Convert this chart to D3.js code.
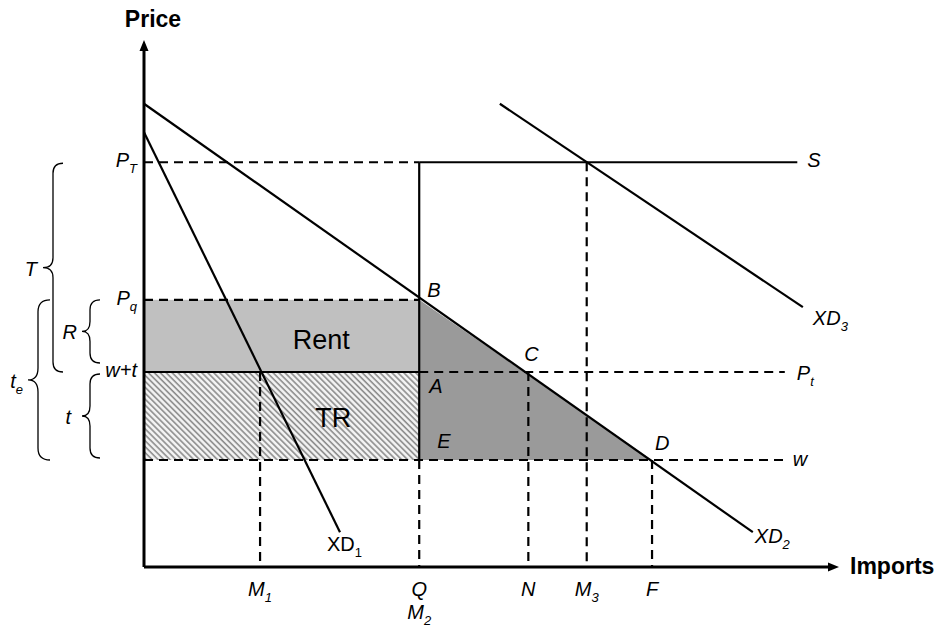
<!DOCTYPE html>
<html>
<head>
<meta charset="utf-8">
<script src="https://cdn.jsdelivr.net/npm/d3@7"></script>
<style>
  body { margin: 0; background: #fff; }
  svg { display: block; font-family: "Liberation Sans", Arial, Helvetica, sans-serif; }
</style>
</head>
<body>
<div class="chart"></div>
<script>
"use strict";

// quantities on the imports axis (arbitrary units 0-100)
const qtyNames = ["M1", "Q", "N", "M3", "F"];
const qtyValues = [16.7, 39.6, 55.3, 63.7, 73.1];

// price levels (arbitrary units 0-100)
const priceNames = ["w", "w+t", "Pq", "PT"];
const priceValues = [20.3, 37.0, 50.7, 76.8];

// excess demand curves, end points [imports, price]
const xd1 = [[0, 82.5], [28.2, 6.6]];
const xd2 = [[0, 87.9], [87.6, 6.6]];
const xd3 = [[51.2, 87.9], [94.8, 49.3]];

const supplyEnd = 94.0;   // where S stops
const dashEnd = 92.2;     // where the P_t and w dashes stop

const width = 942;
const height = 627;

const q = Object.fromEntries(qtyNames.map((n, i) => [n, qtyValues[i]]));
const p = Object.fromEntries(priceNames.map((n, i) => [n, priceValues[i]]));

const svg = d3
  .select(".chart")
  .append("svg")
  .attr("width", width)
  .attr("height", height);

const x = d3.scaleLinear().domain([0, 100]).range([144, 839]);
const y = d3.scaleLinear().domain([0, 100]).range([567, 40]);

// hatch pattern for tariff revenue
const defs = svg.append("defs");
defs
  .append("pattern")
  .attr("id", "hatch")
  .attr("patternUnits", "userSpaceOnUse")
  .attr("width", 4.2)
  .attr("height", 4.2)
  .attr("patternTransform", "rotate(-45)")
  .call((pat) => {
    pat.append("rect").attr("width", 4.2).attr("height", 4.2).attr("fill", "#f4f4f4");
    pat
      .append("line")
      .attr("x1", 1).attr("y1", 0)
      .attr("x2", 1).attr("y2", 4.2)
      .attr("stroke", "#8a8a8a")
      .attr("stroke-width", 1.6);
  });

// shaded areas
svg
  .append("rect")
  .attr("x", x(0))
  .attr("y", y(p.Pq))
  .attr("width", x(q.Q) - x(0))
  .attr("height", y(p["w+t"]) - y(p.Pq))
  .attr("fill", "#c0c0c0");

svg
  .append("rect")
  .attr("x", x(0))
  .attr("y", y(p["w+t"]))
  .attr("width", x(q.Q) - x(0))
  .attr("height", y(p.w) - y(p["w+t"]))
  .attr("fill", "url(#hatch)");

const tri = [
  [q.Q, p.Pq],
  [q.F, p.w],
  [q.Q, p.w],
];
svg
  .append("path")
  .attr("d", d3.line().x((d) => x(d[0])).y((d) => y(d[1]))(tri) + "Z")
  .attr("fill", "#9a9a9a");

// guide lines
const dashed = "9,6";
function seg(x1, y1, x2, y2, dash) {
  svg
    .append("line")
    .attr("x1", x(x1)).attr("y1", y(y1))
    .attr("x2", x(x2)).attr("y2", y(y2))
    .attr("stroke", "#000")
    .attr("stroke-width", 2.2)
    .attr("stroke-dasharray", dash || null);
}

seg(0, p.PT, q.Q, p.PT, dashed);
seg(q.Q, p.PT, supplyEnd, p.PT);
seg(0, p.Pq, q.Q, p.Pq, dashed);
seg(0, p["w+t"], q.Q, p["w+t"]);
seg(q.Q, p["w+t"], dashEnd, p["w+t"], dashed);
seg(0, p.w, dashEnd, p.w, dashed);
seg(q.Q, p.PT, q.Q, p.w);
seg(q.Q, p.w, q.Q, 0, dashed);
seg(q.M1, p["w+t"], q.M1, 0, dashed);
seg(q.N, p["w+t"], q.N, 0, dashed);
seg(q.M3, p.PT, q.M3, 0, dashed);
seg(q.F, p.w, q.F, 0, dashed);

// demand curves
[xd1, xd2, xd3].forEach((c) => seg(c[0][0], c[0][1], c[1][0], c[1][1]));

// axes with arrows
svg
  .append("path")
  .attr("d", `M${x(0)},${y(0)}V${y(100) + 8}M${x(0)},${y(0)}H${x(100) - 8}`)
  .attr("fill", "none")
  .attr("stroke", "#000")
  .attr("stroke-width", 3);
svg
  .append("path")
  .attr("d", `M${x(0)},${y(100)}l-4.5,11h9Z M${x(100)},${y(0)}l-11,-4.5v9Z`)
  .attr("fill", "#000");

// text helpers
function label(px, py, main, sub, opt = {}) {
  const t = svg
    .append("text")
    .attr("x", px)
    .attr("y", py)
    .attr("font-size", opt.size || 20)
    .attr("font-style", opt.italic === false ? "normal" : "italic")
    .attr("font-weight", opt.bold ? "bold" : "normal")
    .attr("text-anchor", opt.anchor || "start");
  t.append("tspan").text(main);
  if (sub) {
    t.append("tspan").attr("font-size", 13).attr("dy", 6).text(sub);
  }
  return t;
}

label(153, 27, "Price", null, { bold: true, italic: false, size: 23, anchor: "middle" });
label(850, 574, "Imports", null, { bold: true, italic: false, size: 23 });

// price labels on the left
label(137, y(p.PT) + 5, "P", "T", { anchor: "end" });
label(137, y(p.Pq) + 5, "P", "q", { anchor: "end" });
label(137, y(p["w+t"]) + 5, "w+t", null, { anchor: "end" });

// quantity labels under the axis
const qtyLabels = [["M", "1"], ["Q", null], ["N", null], ["M", "3"], ["F", null]];
qtyLabels.forEach((l, i) => label(x(qtyValues[i]), y(0) + 29, l[0], l[1], { anchor: "middle" }));
label(x(q.Q), y(0) + 52, "M", "2", { anchor: "middle" });

// point labels
label(x(q.Q) + 8, y(p.Pq) - 3, "B");
label(x(q.N) - 4, y(p["w+t"]) - 11, "C");
label(x(q.Q) + 10, y(p["w+t"]) + 21, "A");
label(x(q.Q) + 18, y(p.w) - 12, "E");
label(x(q.F) + 3, y(p.w) - 10, "D");
label(x(supplyEnd) + 10, y(p.PT) + 5, "S");
label(x(dashEnd) + 12, y(p["w+t"]) + 8, "P", "t");
label(x(dashEnd) + 8, y(p.w) + 6, "w");
label(x(xd3[1][0]) + 10, y(xd3[1][1]) + 18, "XD", "3");
label(x(xd2[1][0]) + 2, y(xd2[1][1]) + 11, "XD", "2");
label(x(xd1[1][0]) - 13, y(xd1[1][1]) + 19, "XD", "1", { italic: false });

label(x(q.Q) - 98, (y(p.Pq) + y(p["w+t"])) / 2 + 13, "Rent", null, { italic: false, size: 27, anchor: "middle" });
label(x(q.Q) - 86, (y(p["w+t"]) + y(p.w)) / 2 + 11, "TR", null, { italic: false, size: 27, anchor: "middle" });

// curly braces on the left
const braces = [
  { name: "T", sub: null, top: p.PT, bottom: p["w+t"] },
  { name: "t", sub: "e", top: p.Pq, bottom: p.w },
  { name: "R", sub: null, top: p.Pq, bottom: p["w+t"] },
  { name: "t", sub: null, top: p["w+t"], bottom: p.w },
];
// pixel layout: end x, spine x, tip x, inset top/bottom, label gap
const braceLayout = [
  { end: 63, spine: 53, tip: 43, inTop: 1, inBottom: 0, gap: 6 },
  { end: 50, spine: 38, tip: 28, inTop: 0, inBottom: 0, gap: 5 },
  { end: 100, spine: 90, tip: 82, inTop: 0, inBottom: 9, gap: 5 },
  { end: 100, spine: 90, tip: 82, inTop: 2, inBottom: 2, gap: 11 },
];

function bracePath(l, y1, y2) {
  const r = Math.min(l.end - l.spine, (y2 - y1) / 4);
  const ym = (y1 + y2) / 2;
  return (
    `M${l.end},${y1}Q${l.spine},${y1} ${l.spine},${y1 + r}` +
    `L${l.spine},${ym - r}Q${l.spine},${ym} ${l.tip},${ym}` +
    `Q${l.spine},${ym} ${l.spine},${ym + r}` +
    `L${l.spine},${y2 - r}Q${l.spine},${y2} ${l.end},${y2}`
  );
}

braces.forEach((b, i) => {
  const l = braceLayout[i];
  const y1 = y(b.top) + l.inTop;
  const y2 = y(b.bottom) - l.inBottom;
  svg
    .append("path")
    .attr("d", bracePath(l, y1, y2))
    .attr("fill", "none")
    .attr("stroke", "#000")
    .attr("stroke-width", 1.3);
  label(l.tip - l.gap, (y1 + y2) / 2 + 8, b.name, b.sub, { anchor: "end" });
});
</script>
</body>
</html>
